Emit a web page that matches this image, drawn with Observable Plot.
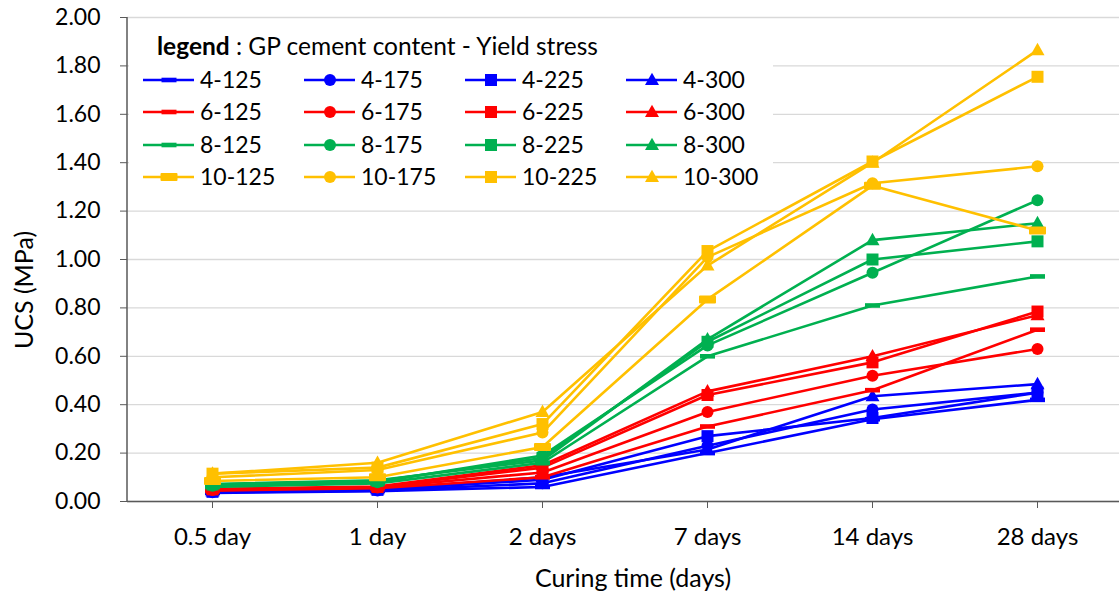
<!DOCTYPE html>
<html><head><meta charset="utf-8">
<script src="https://cdn.jsdelivr.net/npm/d3@7"></script>
<script src="https://cdn.jsdelivr.net/npm/@observablehq/plot@0.6"></script>
<style>
body{margin:0;background:#fff;}
#chart svg{font-family:Lato,"Open Sans",sans-serif;overflow:visible;}
</style>
</head><body><div id="chart"></div>
<script>
// ---- data ----
const days = ["0.5 day","1 day","2 days","7 days","14 days","28 days"];
const yTicks = [0,0.2,0.4,0.6,0.8,1.0,1.2,1.4,1.6,1.8,2.0];
const seriesNames = ["4-125","4-175","4-225","4-300","6-125","6-175","6-225","6-300","8-125","8-175","8-225","8-300","10-125","10-175","10-225","10-300"];

const s4_125  = [0.035,0.043,0.060,0.200,0.340,0.420];
const s4_175  = [0.038,0.045,0.075,0.230,0.380,0.450];
const s4_225  = [0.040,0.048,0.090,0.270,0.345,0.450];
const s4_300  = [0.042,0.050,0.100,0.215,0.435,0.485];
const s6_125  = [0.045,0.055,0.100,0.310,0.460,0.710];
const s6_175  = [0.048,0.058,0.120,0.370,0.520,0.630];
const s6_225  = [0.050,0.060,0.140,0.440,0.575,0.785];
const s6_300  = [0.052,0.062,0.150,0.455,0.600,0.770];
const s8_125  = [0.060,0.075,0.160,0.600,0.810,0.930];
const s8_175  = [0.065,0.080,0.190,0.645,0.945,1.245];
const s8_225  = [0.070,0.085,0.180,0.660,1.000,1.075];
const s8_300  = [0.072,0.088,0.170,0.670,1.080,1.150];
const s10_125 = [0.085,0.100,0.225,0.835,1.305,1.120];
const s10_175 = [0.100,0.130,0.285,1.010,1.315,1.385];
const s10_225 = [0.115,0.140,0.320,1.035,1.405,1.755];
const s10_300 = [0.115,0.160,0.370,0.975,1.400,1.865];

const seriesValues = [s4_125,s4_175,s4_225,s4_300,s6_125,s6_175,s6_225,s6_300,s8_125,s8_175,s8_225,s8_300,s10_125,s10_175,s10_225,s10_300];

// ---- styles ----
const groupColors = ["#0000FF","#FF0000","#00B050","#FFC000"];
const symCircle = {draw(c){ c.moveTo(6,0); c.arc(0,0,6,0,2*Math.PI); c.closePath(); }};
const symSquare = {draw(c){ c.rect(-6,-6,12,12); }};
const symTriangle = {draw(c){ const s=7; c.moveTo(0,-s*1.05); c.lineTo(s,s*0.72); c.lineTo(-s,s*0.72); c.closePath(); }};
const symDash = {draw(c){ c.rect(-7.5,-2.3,15,4.6); }};
const symDashThick = {draw(c){ c.rect(-7.5,-3,15,6); }};
function symbolFor(i){
  const k = i % 4, g = Math.floor(i/4);
  if (k===0) return g===3 ? symDashThick : symDash;
  return [null, symCircle, symSquare, symTriangle][k];
}

const rows = [];
seriesNames.forEach((name,i)=>{
  seriesValues[i].forEach((v,j)=>rows.push({series:name, idx:i, day:days[j], ucs:v}));
});

const marks = [
  Plot.gridY(yTicks, {stroke:"#d9d9d9", strokeOpacity:1, strokeWidth:1.3}),
];
seriesNames.forEach((name,i)=>{
  const d = rows.filter(r=>r.idx===i);
  const col = groupColors[Math.floor(i/4)];
  marks.push(Plot.line(d, {x:"day", y:"ucs", stroke:col, strokeWidth:2.6}));
  const isThick = (i===12);
  marks.push(Plot.dot(d, {x:"day", y:"ucs", symbol:symbolFor(i), fill:col, stroke: isThick?col:"none", strokeWidth: isThick?2:0, strokeLinejoin:"round", r:5}));
});
marks.push(
  Plot.ruleY([0], {stroke:"#595959", strokeWidth:1.5}),
  Plot.axisY({ticks:yTicks, tickFormat:d3.format(".2f"), tickSize:7, tickPadding:20, stroke:"#595959", fontSize:23, label:null}),
  Plot.axisX({tickSize:7, tickPadding:19, stroke:"#595959", fontSize:24, label:null})
);

const chart = Plot.plot({
  width:1119, height:597,
  marginLeft:127, marginRight:0, marginTop:17, marginBottom:96,
  x:{type:"point", domain:days, range:[210,1039], padding:0},
  y:{domain:[0,2], range:[501,17]},
  style:{fontFamily:"Lato, 'Open Sans', sans-serif", color:"#000", background:"#fff"},
  marks
});
document.getElementById("chart").appendChild(chart);

const svg = d3.select(chart);
// left axis line
svg.append("line").attr("x1",127).attr("x2",127).attr("y1",17).attr("y2",501)
  .attr("stroke","#595959").attr("stroke-width",1.5);

// axis titles
svg.append("text").attr("x",633).attr("y",578).attr("dy","0.35em").attr("text-anchor","middle")
  .style("fill","#000").attr("font-size",25).attr("font-family","Lato, 'Open Sans', sans-serif").text("Curing time (days)");
svg.append("text").attr("transform","translate(24,290) rotate(-90)").attr("dy","0.35em").attr("text-anchor","middle")
  .style("fill","#000").attr("font-size",25).attr("font-family","Lato, 'Open Sans', sans-serif").text("UCS (MPa)");

// ---- legend (inside plot, white background) ----
const lg = svg.append("g").attr("font-family","Lato, 'Open Sans', sans-serif").attr("font-size",23).attr("text-anchor","start");
lg.append("rect").attr("x",129).attr("y",26).attr("width",644).attr("height",168).style("fill","#ffffff").style("stroke","none");
const t = lg.append("text").attr("x",157).attr("y",46).attr("dy","0.35em").attr("font-size",24.5).style("fill","#000").attr("text-anchor","start");
t.append("tspan").attr("font-weight","bold").text("legend");
t.append("tspan").text(" : GP cement content - Yield stress");
const colX = [143,304,465,626];
const rowY = [80,112,145,177];
seriesNames.forEach((name,i)=>{
  const k=i%4, g=Math.floor(i/4);
  const x0=colX[k], y0=rowY[g], col=groupColors[g];
  lg.append("line").attr("x1",x0).attr("x2",x0+51).attr("y1",y0).attr("y2",y0).style("stroke",col).attr("stroke-width",2.6);
  const p = lg.append("path").attr("d", d3.symbol().type(symbolFor(i))()).attr("transform",`translate(${x0+26},${y0})`).style("fill",col);
  if (i===12) p.style("stroke",col).attr("stroke-width",2).attr("stroke-linejoin","round");
  lg.append("text").attr("x",x0+57).attr("y",y0).attr("dy","0.36em").attr("text-anchor","start").style("fill","#000").text(name);
});
</script>
</body></html>
